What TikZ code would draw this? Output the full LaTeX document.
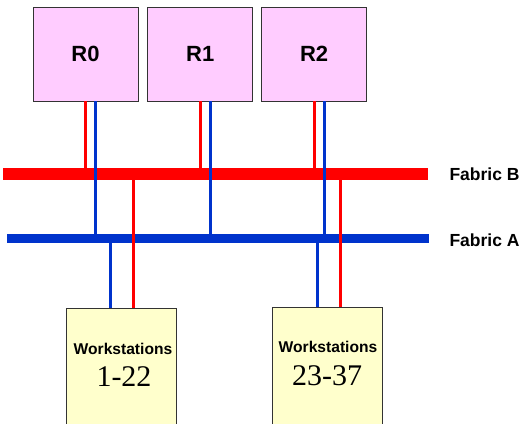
\documentclass[tikz,border=0pt]{standalone}
\usepackage{fontspec}
\setmainfont{Liberation Sans}
\newfontfamily\wsnum{Liberation Serif}
\usetikzlibrary{positioning}
\definecolor{rpink}{RGB}{255,204,255}
\definecolor{wsyellow}{RGB}{255,255,204}
\definecolor{fabred}{RGB}{255,0,0}
\definecolor{fabblue}{RGB}{0,51,204}

\begin{document}
\begin{tikzpicture}[x=1pt, y=-1pt,
    rbox/.style={draw=black!80, line width=0.8pt, fill=rpink, minimum width=105pt,
      minimum height=94pt, inner sep=0pt, font=\bfseries\fontsize{22}{24}\selectfont},
    wsbox/.style={draw=black!80, line width=0.8pt, fill=wsyellow, minimum width=110pt,
      minimum height=140pt, inner sep=0pt},
    wslbl/.style={anchor=base, font=\bfseries\fontsize{15.6}{17}\selectfont},
    wsrange/.style={anchor=base, font=\wsnum\fontsize{30}{32}\selectfont},
    fablbl/.style={anchor=west, font=\bfseries\fontsize{17.5}{20}\selectfont},
    fabricB/.style={fabred, line width=12pt},
    fabricA/.style={fabblue, line width=9pt},
    redlink/.style={fabred, line width=3pt},
    bluelink/.style={fabblue, line width=3pt}]
    \useasboundingbox (0,0) rectangle (529,423);
    \clip (0,0) rectangle (529,423);
    \node[rbox] (R0) at (85.5,54) {R0};
    \node[rbox, right=9pt of R0] (R1) {R1};
    \node[rbox, right=8pt of R1] (R2) {R2};
    \coordinate (fbW) at (3,174);
    \coordinate (fbE) at (428,174);
    \coordinate (faW) at (7,238);
    \coordinate (faE) at (429,238);
    \draw[fabricB] (fbW) -- (fbE);
    \draw[fabricA] (faW) -- (faE);
    \node[fablbl] (labB) at (446,174) {Fabric B};
    \node[fablbl] (labA) at (446,240) {Fabric A};
    \node[wsbox, anchor=north] (WS1) at (121,308) {};
    \node[wsbox, anchor=north] (WS2) at (327,307) {};
    \node[wslbl] (WS1lbl) at (123,354) {Workstations};
    \node[wsrange] (WS1num) at (124,386) {1-22};
    \node[wslbl] (WS2lbl) at (328,352) {Workstations};
    \node[wsrange] (WS2num) at (327,385) {23-37};
    \draw[redlink] (R0.south) -- (R0.south |- fbW);
    \draw[redlink] (R1.south) -- (R1.south |- fbW);
    \draw[redlink] (R2.south) -- (R2.south |- fbW);
    \draw[bluelink] ([xshift=10pt]R0.south) -- ([xshift=10pt]R0.south |- faW);
    \draw[bluelink] ([xshift=10pt]R1.south) -- ([xshift=10pt]R1.south |- faW);
    \draw[bluelink] ([xshift=10pt]R2.south) -- ([xshift=10pt]R2.south |- faW);
    \draw[bluelink] ([xshift=-11pt]WS1.north) -- ([xshift=-11pt]WS1.north |- faW);
    \draw[redlink] ([xshift=12pt]WS1.north) -- ([xshift=12pt]WS1.north |- fbW);
    \draw[bluelink] ([xshift=-10pt]WS2.north) -- ([xshift=-10pt]WS2.north |- faW);
    \draw[redlink] ([xshift=13pt]WS2.north) -- ([xshift=13pt]WS2.north |- fbW);
\end{tikzpicture}
\end{document}
